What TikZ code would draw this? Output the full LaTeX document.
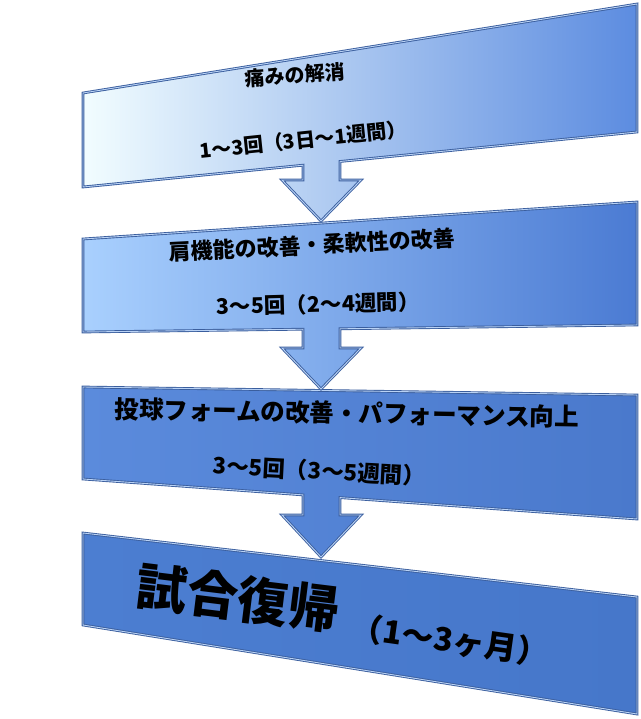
\documentclass[tikz,border=0pt]{standalone}
\usepackage{fontspec}
\setmainfont{Noto Sans CJK JP}
\definecolor{edge}{HTML}{3A5E9E}
\definecolor{hl}{HTML}{B9D2F5}
\definecolor{ca}{HTML}{F2FDFF}
\definecolor{cb}{HTML}{C4E6FB}
\definecolor{cc}{HTML}{5C8CE0}
\definecolor{cd}{HTML}{A9D0FE}
\definecolor{ce}{HTML}{79A5EC}
\definecolor{cf}{HTML}{4B7BD3}
\definecolor{cg}{HTML}{5B8BDC}
\definecolor{ch}{HTML}{4A79CC}
\definecolor{ci}{HTML}{4C7ED1}
\definecolor{cj}{HTML}{4677CA}
\tikzset{
  boxline/.style={draw=edge, line width=0.9pt, double=hl, double distance=0.9pt, line join=miter},
  lbl/.style={inner sep=0pt, text=black, font=\bfseries\fontsize{#1}{#1}\selectfont},
  lbl/.default=20
}
\begin{document}
\begin{tikzpicture}[x=1pt,y=-1pt]
\useasboundingbox (0,0) rectangle (640,719);
% box 4
\path[boxline, left color=ci, right color=cj]
  (83,533) -- (637,597) -- (637,714) -- (83,625) -- cycle;
% box 3 with arrow
\path[boxline, left color=cg, right color=ch]
  (83,387) -- (637,395) -- (637,519) -- (340,497.6) -- (340,515) -- (361,515)
  -- (321,557) -- (282,515) -- (303,515) -- (303,494.9) -- (83,479) -- cycle;
% box 2 with arrow
\path[boxline, left color=cd, middle color=ce, right color=cf]
  (83,239) -- (637,202) -- (637,325) -- (340,328.8) -- (340,348) -- (361,348)
  -- (321,389) -- (282,348) -- (303,348) -- (303,329.2) -- (83,332) -- cycle;
% box 1 with arrow
\path[boxline, left color=ca, middle color=cb, right color=cc]
  (83,93) -- (637,4) -- (637,132) -- (340,161.5) -- (340,180) -- (361,180)
  -- (321,221) -- (282,180) -- (303,180) -- (303,165.2) -- (83,187) -- cycle;
% texts
\node[lbl=20, rotate=4] (t1a) at (295,75) {痛みの解消};
\node[lbl=20, rotate=6] (t1b) at (303,140) {1～3回（3日～1週間）};
\node[lbl=22, rotate=3] (t2a) at (312,245) {肩機能の改善・柔軟性の改善};
\node[lbl=21.5, rotate=1.5] (t2b) at (318,304) {3～5回（2～4週間）};
\node[lbl=24.5, rotate=-1] (t3a) at (347,413) {投球フォームの改善・パフォーマンス向上};
\node[lbl=22.5, rotate=-3] (t3b) at (319,471) {3～5回（3～5週間）};
\node[lbl=51, rotate=-7] (t4a) at (238,598) {試合復帰};
\node[lbl=32, rotate=-8] (t4b) at (450,640) {（1～3ヶ月）};
\end{tikzpicture}
\end{document}
